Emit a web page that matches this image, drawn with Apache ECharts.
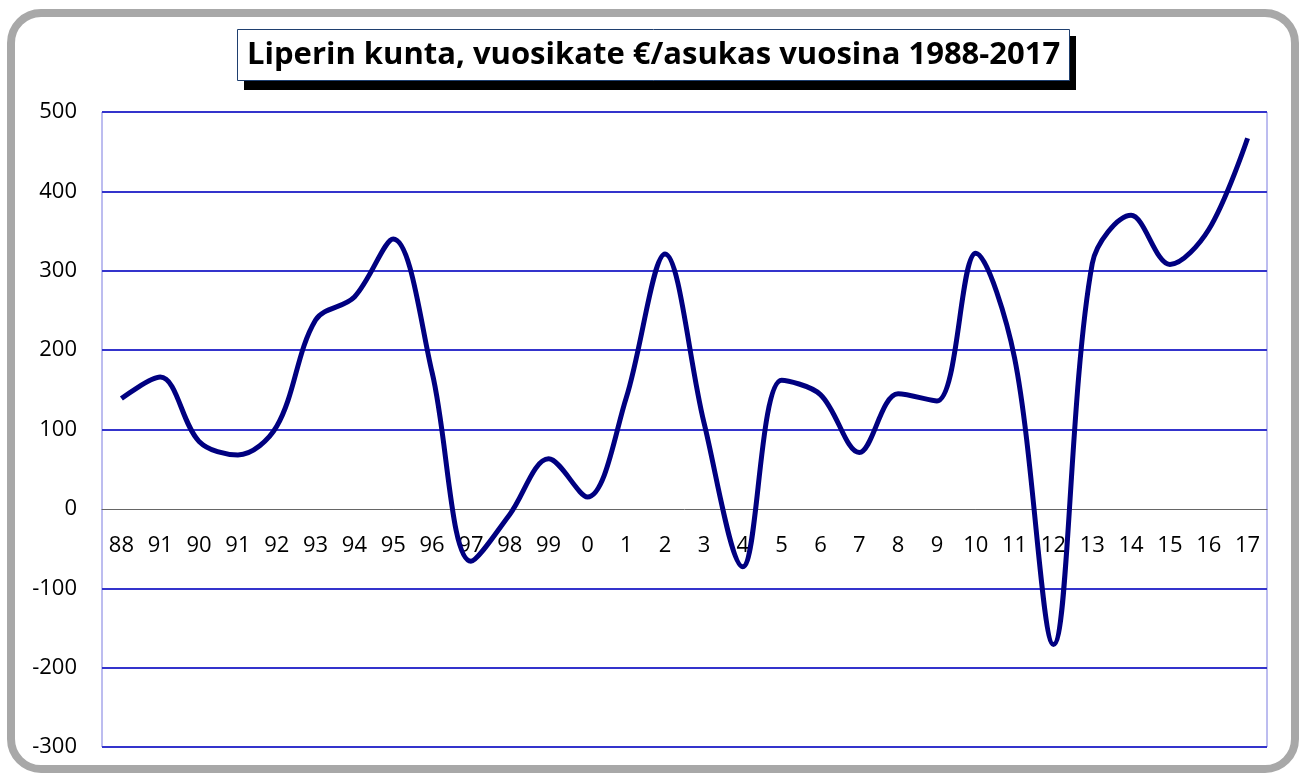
<!DOCTYPE html>
<html>
<head>
<meta charset="utf-8">
<title>Liperin kunta</title>
<script src="https://cdn.jsdelivr.net/npm/echarts@6/dist/echarts.min.js"></script>
<style>
  html, body { margin: 0; padding: 0; background: #fff; }
  #chart { width: 1301px; height: 773px; }
</style>
</head>
<body>
<div id="chart"></div>
<script>
// vuodet (x-akselin tekstit sellaisenaan kuvasta)
var years = ['88', '91', '90', '91', '92', '93', '94', '95', '96', '97', '98', '99',
    '0', '1', '2', '3', '4', '5', '6', '7', '8', '9', '10', '11', '12', '13', '14', '15', '16', '17'];

// vuosikate €/asukas
var vuosikate = [139, 166, 85, 68, 104, 238, 267, 340, 172, -66, -7, 63,
    15, 140, 321, 109, -73, 162, 144, 71, 145, 136, 322, 190, -171, 309, 370, 308, 352, 467];

var yTicks = { min: -300, max: 500, step: 100 };

var fontName = '"Open Sans", "Liberation Sans", sans-serif';

// piirtoalue pikseleinä
var plotTop = 112, plotBottom = 747;
// nolla-akselin siirto ylös alareunasta
var zeroOffset = (plotBottom - plotTop) * (0 - yTicks.min) / (yTicks.max - yTicks.min);

// apuviivojen värit, nollaviiva jätetään akselille
var gridColors = [];
for (var v = yTicks.min; v <= yTicks.max; v += yTicks.step) {
    gridColors.push(v === 0 ? 'transparent' : '#3434cc');
}

var myChart = echarts.init(document.getElementById('chart'), null, { renderer: 'canvas' });

var option = {
    backgroundColor: '#fff',
    animation: false,
    title: {
        text: 'Liperin kunta, vuosikate €/asukas vuosina 1988-2017',
        left: 237,
        top: 29,
        padding: [6, 10, 6, 10],
        backgroundColor: '#fff',
        borderColor: '#1f3f6f',
        borderWidth: 1,
        textStyle: {
            fontFamily: fontName,
            fontWeight: 'bold',
            fontSize: 31,
            color: '#000',
            lineHeight: 40
        }
    },
    graphic: [{
        // kehys
        type: 'rect',
        z: -1,
        shape: { x: 11, y: 13, width: 1284, height: 756, r: 30 },
        style: { fill: 'none', stroke: '#a8a8a8', lineWidth: 8 }
    }, {
        // otsikon varjo
        type: 'rect',
        z: 0,
        shape: { x: 244, y: 36, width: 832, height: 54 },
        style: { fill: '#000' }
    }],
    grid: {
        left: 102,
        right: 34,
        top: plotTop,
        bottom: 773 - plotBottom,
        outerBoundsMode: 'none',
        containLabel: false,
        show: true,
        borderColor: '#7b7be0',
        borderWidth: 1
    },
    xAxis: {
        type: 'category',
        data: years,
        boundaryGap: true,
        position: 'bottom',
        offset: -zeroOffset,
        axisLine: { onZero: false, lineStyle: { color: '#666', width: 1 } },
        axisTick: { show: false },
        axisLabel: {
            interval: 0,
            margin: 26,
            color: '#000',
            fontFamily: fontName,
            fontSize: 22
        },
        splitLine: { show: false }
    },
    yAxis: {
        type: 'value',
        min: yTicks.min,
        max: yTicks.max,
        interval: yTicks.step,
        axisLine: { show: false },
        axisTick: { show: false },
        axisLabel: {
            margin: 25,
            color: '#000',
            fontFamily: fontName,
            fontSize: 22
        },
        splitLine: { show: true, lineStyle: { color: gridColors, width: 2 } }
    },
    series: [{
        type: 'line',
        data: vuosikate,
        smooth: 0.34,
        symbol: 'none',
        z: 5,
        lineStyle: { color: '#000080', width: 5 }
    }]
};

myChart.setOption(option);
</script>
</body>
</html>
